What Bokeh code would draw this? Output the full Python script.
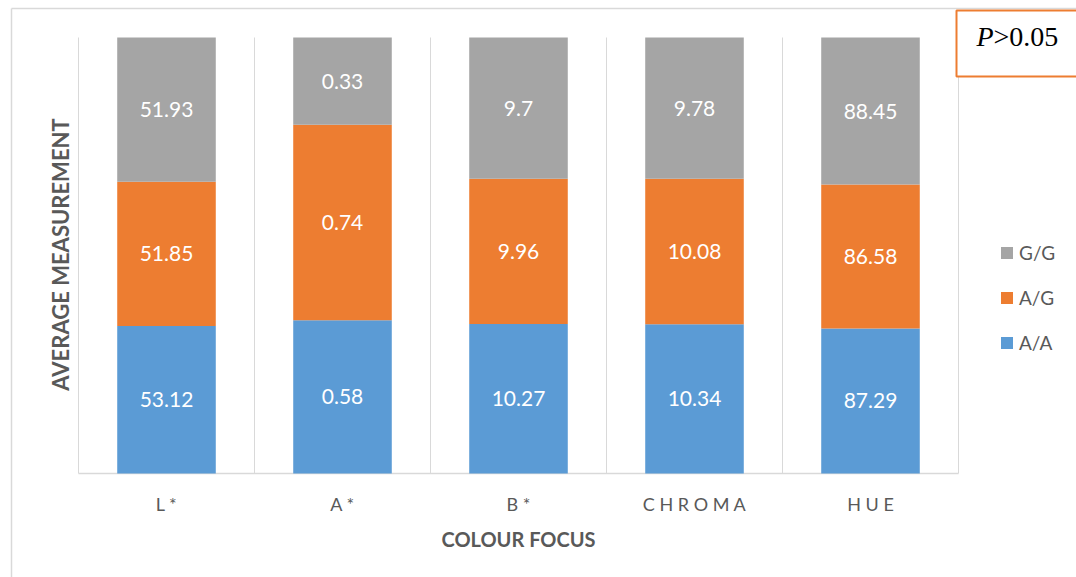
import math

from bokeh.plotting import figure
from bokeh.models import Range1d, Legend, LegendItem, ColumnDataSource
from bokeh.core.properties import value
from bokeh.embed import file_html
from bokeh.resources import INLINE

# Average colour measurements per genotype
categories = ["L*", "A*", "B*", "CHROMA", "HUE"]
genotypes = ["A/A", "A/G", "G/G"]
aa_values = [53.12, 0.58, 10.27, 10.34, 87.29]
ag_values = [51.85, 0.74, 9.96, 10.08, 86.58]
gg_values = [51.93, 0.33, 9.7, 9.78, 88.45]
colors = ["#5B9BD5", "#ED7D31", "#A5A5A5"]

W, H = 1076, 577
# plot area in canvas pixels
FL, FR, FT, FB = 78, 958, 37, 473
n = len(categories)
GRID = "#D9D9D9"
TEXT = "#595959"


def dx(px):
    return (px - FL) / (FR - FL) * n


def dy(py):
    return (FB - py) / (FB - FT)


series = {"A/A": aa_values, "A/G": ag_values, "G/G": gg_values}
xs = [i + 0.5 for i in range(n)]
totals = [sum(series[g][i] for g in genotypes) for i in range(n)]

data = {"x": xs}
for g in genotypes:
    data[g] = [v / t for v, t in zip(series[g], totals)]
source = ColumnDataSource(data)

# label positions: middle of each stacked segment
lx, ly, lt = [], [], []
for i in range(n):
    base = 0.0
    for g in genotypes:
        share = series[g][i] / totals[i]
        lx.append(xs[i])
        ly.append(base + share / 2)
        lt.append(f"{series[g][i]:g}")
        base += share
labels = ColumnDataSource({"x": lx, "y": ly, "t": lt})

p = figure(width=W, height=H, output_backend="svg", toolbar_location=None,
           x_range=Range1d(dx(0), dx(W)), y_range=Range1d(dy(H), dy(0)),
           x_axis_location=None, y_axis_location=None,
           min_border=0)
p.outline_line_color = None
p.background_fill_color = "white"
p.border_fill_color = "white"
p.grid.visible = False

# chart border
p.segment(x0=[dx(11), dx(11)], y0=[dy(8), dy(8)],
          x1=[dx(W + 20), dx(11)], y1=[dy(8), dy(H + 20)],
          line_color=GRID, line_width=1.5)

# category separators and base line
p.segment(x0=list(range(n + 1)), y0=0, x1=list(range(n + 1)), y1=1,
          line_color=GRID, line_width=1)
p.segment(x0=[0], y0=[0], x1=[n], y1=[0], line_color=GRID, line_width=1.5)

renderers = p.vbar_stack(genotypes, x="x", width=0.56, color=colors,
                         line_color=None, source=source)

p.text(x="x", y="y", text="t", source=labels, text_color="white",
       text_font=value("Lato"), text_font_size="21px",
       text_align="center", text_baseline="middle")

# category labels
p.text(x=xs, y=[dy(503)] * n, text=[" ".join(c) for c in categories],
       text_color=TEXT, text_font=value("Lato"), text_font_size="18px",
       text_align="center", text_baseline="middle")

# axis titles
p.text(x=[n / 2], y=[dy(538)], text=["COLOUR FOCUS"], text_color=TEXT,
       text_font=value("Lato"), text_font_style="bold", text_font_size="20px",
       text_align="center", text_baseline="middle")
p.text(x=[dx(60)], y=[dy(254)], text=["AVERAGE MEASUREMENT"], angle=math.pi / 2,
       text_color=TEXT, text_font=value("Lato"), text_font_style="bold",
       text_font_size="22px", text_align="center", text_baseline="middle")

# significance note
p.quad(left=[dx(956)], right=[dx(W + 20)], top=[dy(10)], bottom=[dy(76)],
       fill_color="white", line_color="#ED7D31", line_width=2)
p.text(x=[dx(976)], y=[dy(36)], text=["P"], text_color="black",
       text_font=value("Liberation Serif"), text_font_style="italic",
       text_font_size="28px", text_align="left", text_baseline="middle")
p.text(x=[dx(993)], y=[dy(36)], text=[">0.05"], text_color="black",
       text_font=value("Liberation Serif"), text_font_size="28px",
       text_align="left", text_baseline="middle")

legend = Legend(items=[LegendItem(label=g, renderers=[r])
                       for g, r in reversed(list(zip(genotypes, renderers)))],
                location=(999, H - 354),
                orientation="vertical", padding=0, margin=0,
                border_line_color=None, background_fill_alpha=0,
                glyph_width=15, glyph_height=15, label_standoff=5,
                label_height=15, spacing=22,
                label_text_font="Lato", label_text_font_size="19px",
                label_text_color=TEXT)
p.add_layout(legend)

open("out.html", "w").write(file_html(p, INLINE))
